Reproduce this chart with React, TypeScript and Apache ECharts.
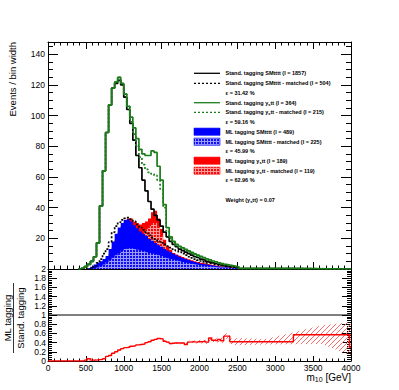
import React, { useEffect, useRef } from 'react';
import * as echarts from 'echarts';

const FONT = '"Liberation Sans", Arial, Helvetica, sans-serif';

// bin edges (GeV) of the m10 histograms
const binEdges = [
  400, 440, 480, 520, 560, 600, 640, 680, 720, 760, 800, 840, 880, 920, 960, 1000, 1040, 1080, 1120, 1160,
  1200, 1240, 1280, 1320, 1360, 1400, 1440, 1480, 1520, 1560, 1600, 1640, 1680, 1720, 1760, 1800, 1840, 1880,
  1920, 1960, 2000, 2040, 2080, 2120, 2160, 2200, 2240, 2280, 2320, 2360, 2400, 2440, 2480, 2520, 3240, 3980, 4000,
];

// Stand. tagging SMtttt (black solid)
const stdSM = [
  0, 0.5, 1.5, 3, 5, 8, 17, 41, 64, 89,
  107, 118, 121, 123, 120, 112, 104, 95, 84, 74,
  66, 58, 51, 44, 39, 35, 32, 28, 24, 21,
  18, 16, 14.5, 13, 12, 11, 10, 9, 8, 7.5,
  6.5, 6, 5, 4.5, 4, 3.5, 3, 2.5, 2, 1.8,
  1.5, 1.2, 1, 0.2, 0, 0,
];
// Stand. tagging SMtttt - matched (black dashed)
const stdSMMatched = [
  0, 0, 0, 0, 0.5, 2, 4, 6.5, 10, 13,
  17.5, 24, 28, 30.5, 32, 33, 33.5, 32.5, 31, 29,
  27, 25.5, 24, 22, 20.5, 19.5, 18, 17, 16, 15,
  14, 13, 12, 11, 10, 9, 8, 7.2, 6.5, 5.8,
  5.2, 4.6, 4, 3.6, 3.2, 2.8, 2.4, 2, 1.7, 1.4,
  1.2, 1, 0.8, 0.15, 0, 0,
];
// Stand. tagging y_s tt (green solid)
const stdYs = [
  0, 0.5, 1.5, 3, 5, 8, 17, 41, 64, 89,
  107, 118, 122, 125, 121, 114, 106, 99, 92, 85,
  78, 75, 74, 74, 77, 76, 67, 58, 42, 27,
  21, 18, 16, 14.8, 13.8, 12.8, 11.8, 10.8, 9.8, 9,
  8.2, 7.4, 6.6, 5.9, 5.2, 4.6, 4, 3.5, 3, 2.6,
  2.2, 1.8, 1.4, 0.4, 0, 0,
];
// Stand. tagging y_s tt - matched (green dashed)
const stdYsMatched = [
  0, 0.5, 1.5, 3, 5, 8, 17, 41, 64, 89,
  107, 118, 122, 125, 121, 114, 106, 96, 88, 80,
  73, 68, 65, 63, 62, 61, 58, 52, 40, 25,
  20, 17.5, 15.5, 14.3, 13.3, 12.3, 11.3, 10.3, 9.4, 8.6,
  7.8, 7, 6.3, 5.6, 5, 4.4, 3.8, 3.3, 2.8, 2.4,
  2, 1.6, 1.2, 0.3, 0, 0,
];
// ML tagging SMtttt (blue)
const mlSM = [
  0, 0, 0, 0.5, 1.5, 3, 4, 5, 6.5, 8.5,
  13, 18, 23, 27, 30, 32, 32.5, 31, 28.5, 26.5,
  24.5, 23, 21.5, 19.5, 18.5, 17, 15.5, 14.5, 13, 12,
  11, 10, 9, 8, 7.2, 6.5, 5.8, 5.2, 4.6, 4,
  3.5, 3.1, 2.7, 2.4, 2.1, 1.8, 1.5, 1.3, 1.1, 0.9,
  0.7, 0.5, 0.4, 0.1, 0, 0,
];
// ML tagging SMtttt - matched (blue hatched)
const mlSMMatched = [
  0, 0, 0, 0, 0.3, 0.5, 1, 2, 3, 4.5,
  6, 7.5, 9, 10.5, 12, 13, 13.5, 13.5, 13, 12.5,
  12, 11.5, 11, 10.5, 10, 9.5, 9, 8.5, 7.5, 7,
  6.5, 6, 5.5, 5, 4.5, 4, 3.6, 3.2, 2.9, 2.6,
  2.3, 2, 1.8, 1.6, 1.4, 1.2, 1, 0.9, 0.8, 0.7,
  0.6, 0.5, 0.4, 0.1, 0, 0,
];
// ML tagging y_s tt (red)
const mlYs = [
  0, 0, 0, 0.3, 1, 2, 3, 4, 5, 7,
  10, 14, 19, 24, 28, 31, 33, 33, 31, 30,
  29, 30, 31, 33, 37, 38, 33, 26, 19, 15,
  12.5, 10.5, 9.5, 8.6, 7.8, 7, 6.3, 5.7, 5.1, 4.5,
  4, 3.6, 3.2, 2.8, 2.4, 2.1, 1.8, 1.5, 1.3, 1.1,
  0.9, 0.7, 0.5, 0.1, 0, 0,
];
// ML tagging y_s tt - matched (red hatched)
const mlYsMatched = [
  0, 0, 0, 0, 0, 0, 0, 0, 0, 1,
  2, 4, 6, 8, 10, 12, 14, 16, 18, 20,
  22, 24, 26, 28, 30, 30, 27, 21, 15, 11.5,
  9.5, 8, 7.2, 6.5, 5.8, 5.2, 4.7, 4.2, 3.7, 3.3,
  3, 2.7, 2.4, 2.1, 1.8, 1.5, 1.3, 1.1, 0.9, 0.8,
  0.6, 0.5, 0.4, 0.05, 0, 0,
];
// ratio ML tagging / Stand. tagging, and its uncertainty
const ratio = [
  0, 0, 0.02, 0.05, 0.02, 0.02, 0.03, 0.03, 0.05, 0.1,
  0.12, 0.17, 0.2, 0.24, 0.27, 0.29, 0.3, 0.32, 0.33, 0.35,
  0.36, 0.37, 0.4, 0.42, 0.45, 0.47, 0.49, 0.48, 0.43, 0.41,
  0.38, 0.39, 0.39, 0.39, 0.39, 0.36, 0.41, 0.42, 0.41, 0.42,
  0.42, 0.43, 0.41, 0.5, 0.45, 0.44, 0.47, 0.44, 0.54, 0.54,
  0.42, 0.42, 0.42, 0.42, 0.57, 0.3,
];
const ratioErr = [
  0, 0, 0.03, 0.04, 0.03, 0.02, 0.02, 0.02, 0.02, 0.015,
  0.015, 0.015, 0.015, 0.015, 0.015, 0.015, 0.015, 0.015, 0.015, 0.015,
  0.015, 0.015, 0.015, 0.015, 0.015, 0.015, 0.015, 0.015, 0.02, 0.02,
  0.02, 0.02, 0.02, 0.025, 0.025, 0.03, 0.03, 0.03, 0.035, 0.035,
  0.04, 0.04, 0.045, 0.05, 0.05, 0.05, 0.055, 0.06, 0.06, 0.07,
  0.07, 0.07, 0.08, 0.06, 0.2, 0,
];
const bandEnd = { x: 4000, low: 0.12, high: 0.85 };

const legendTexts = [
  'Stand. tagging SMtttt (I = 1857)',
  'Stand. tagging SMtttt - matched (I = 504)',
  'ε = 31.42 %',
  'Stand. tagging y{s|s}tt (I = 364)',
  'Stand. tagging y{s|s}tt - matched (I = 215)',
  'ε = 59.16 %',
  'ML tagging SMtttt (I = 489)',
  'ML tagging SMtttt - matched (I = 225)',
  'ε = 45.99 %',
  'ML tagging y{s|s}tt (I = 189)',
  'ML tagging y{s|s}tt - matched (I = 119)',
  'ε = 62.96 %',
];
const weightText = 'Weight (y{s|s}tt) = 0.07';

const BLACK = '#000000';
const GREEN = '#1b7d1b';
const BLUE = '#0000ff';
const RED = '#ff0000';

function stepData(vals: number[]) {
  const pts = vals.map((v, i) => [binEdges[i], v]);
  pts.push([binEdges[vals.length], vals[vals.length - 1]]);
  return pts;
}

function gridPattern(bg: string, line: string, size: number) {
  const c = document.createElement('canvas');
  c.width = size;
  c.height = size;
  const ctx = c.getContext('2d')!;
  ctx.fillStyle = bg;
  ctx.fillRect(0, 0, size, size);
  ctx.fillStyle = line;
  ctx.fillRect(0, 0, size, 1);
  ctx.fillRect(0, 0, 1, size);
  return { image: c, repeat: 'repeat', imageWidth: size, imageHeight: size } as any;
}

function diagPattern(line: string, size: number) {
  const c = document.createElement('canvas');
  c.width = size;
  c.height = size;
  const ctx = c.getContext('2d')!;
  ctx.strokeStyle = line;
  ctx.lineWidth = 1;
  ctx.beginPath();
  ctx.moveTo(-1, size + 1);
  ctx.lineTo(size + 1, -1);
  ctx.moveTo(-1, 1);
  ctx.lineTo(1, -1);
  ctx.moveTo(size - 1, size + 1);
  ctx.lineTo(size + 1, size - 1);
  ctx.stroke();
  return { image: c, repeat: 'repeat', imageWidth: size, imageHeight: size } as any;
}

export default function App() {
  const ref = useRef<HTMLDivElement>(null);

  useEffect(() => {
    if (!ref.current) return;
    const chart = echarts.init(ref.current, undefined, { renderer: 'svg' });

    const blueHatch = gridPattern('#1010f0', '#9a9aff', 3);
    const redHatch = gridPattern('#f01010', '#ff9a9a', 3);
    const bandHatch = diagPattern('#ff6a6a', 5);

    const bandPts: number[][] = [];
    for (let i = 2; i < ratio.length - 1; i++) {
      const c = (binEdges[i] + binEdges[i + 1]) / 2;
      bandPts.push([c, Math.max(0, ratio[i] - ratioErr[i]), ratio[i] + ratioErr[i]]);
    }
    bandPts.push([bandEnd.x, bandEnd.low, bandEnd.high]);

    const histLine = (vals: number[], color: string, dashed: boolean, z: number) => ({
      type: 'line',
      xAxisIndex: 0,
      yAxisIndex: 0,
      data: stepData(vals),
      step: 'end',
      symbol: 'none',
      showSymbol: false,
      silent: true,
      z,
      lineStyle: { color, width: 1.7, type: dashed ? [2, 2] : 'solid' },
    });
    const histFill = (vals: number[], fill: any, z: number) => ({
      type: 'line',
      xAxisIndex: 0,
      yAxisIndex: 0,
      data: stepData(vals),
      step: 'end',
      symbol: 'none',
      showSymbol: false,
      silent: true,
      z,
      lineStyle: { width: 0, opacity: 0 },
      areaStyle: { color: fill, opacity: 1 },
    });

    const xBase = {
      type: 'value',
      min: 0,
      max: 4000,
      interval: 500,
      splitLine: { show: false },
      axisLine: { onZero: false, lineStyle: { color: BLACK, width: 1 } },
      axisTick: { inside: true, length: 7, lineStyle: { color: BLACK } },
      minorTick: { show: true, splitNumber: 6, length: 3.5, lineStyle: { color: BLACK } },
      axisLabel: { show: false },
    };
    const yMainBase = {
      type: 'value',
      min: 0,
      max: 148,
      interval: 20,
      gridIndex: 0,
      splitLine: { show: false },
      axisLine: { onZero: false, lineStyle: { color: BLACK, width: 1 } },
      axisTick: { inside: true, length: 10, lineStyle: { color: BLACK } },
      minorTick: { show: true, splitNumber: 4, length: 5, lineStyle: { color: BLACK } },
    };
    const yRatioBase = {
      type: 'value',
      min: 0,
      max: 2,
      interval: 0.2,
      gridIndex: 1,
      splitLine: { show: false },
      axisLine: { onZero: false, lineStyle: { color: BLACK, width: 1 } },
      axisTick: { inside: true, length: 9, lineStyle: { color: BLACK } },
      minorTick: { show: true, splitNumber: 5, length: 4, lineStyle: { color: BLACK } },
    };

    const legendY = [73.3, 83.3, 93.3, 102.7, 112.3, 122, 131.7, 141.7, 151, 160.7, 170.7, 180];
    const legendKinds = ['lineK', 'dashK', 'none', 'lineG', 'dashG', 'none', 'boxB', 'hatchB', 'none', 'boxR', 'hatchR', 'none'];
    const rich = { s: { fontSize: 4, fontWeight: 'bold', fontFamily: FONT, padding: [3, 0, 0, 0] } };
    const legendEls: any[] = [];
    legendTexts.forEach((t, i) => {
      const y = legendY[i];
      const k = legendKinds[i];
      if (k.startsWith('line') || k.startsWith('dash')) {
        legendEls.push({
          type: 'line',
          shape: { x1: 194, y1: y, x2: 220, y2: y },
          style: { stroke: k.endsWith('K') ? BLACK : GREEN, lineWidth: 1.3, lineDash: k.startsWith('dash') ? [2, 2] : null },
          silent: true,
        });
      } else if (k !== 'none') {
        const fill = k === 'boxB' ? BLUE : k === 'hatchB' ? blueHatch : k === 'boxR' ? RED : redHatch;
        legendEls.push({
          type: 'rect',
          shape: { x: 194, y: y - 3.6, width: 26, height: 7.2 },
          style: { fill, stroke: k.endsWith('B') ? BLUE : RED, lineWidth: 0.6 },
          silent: true,
        });
      }
      legendEls.push({
        type: 'text',
        x: 225.5,
        y,
        silent: true,
        style: {
          text: t,
          rich,
          fill: BLACK,
          fontSize: 5.5,
          fontWeight: 'bold',
          fontFamily: FONT,
          align: 'left',
          verticalAlign: 'middle',
        },
      });
    });
    legendEls.push({
      type: 'text',
      x: 225.5,
      y: 200,
      silent: true,
      style: {
        text: weightText,
        rich,
        fill: BLACK,
        fontSize: 5.5,
        fontWeight: 'bold',
        fontFamily: FONT,
        align: 'left',
        verticalAlign: 'middle',
      },
    });

    const option: any = {
      animation: false,
      backgroundColor: '#ffffff',
      grid: [
        { left: 48, top: 42, width: 303, height: 227, outerBoundsMode: 'none' },
        { left: 48, top: 269, width: 303, height: 92, outerBoundsMode: 'none' },
      ],
      xAxis: [
        { ...xBase, gridIndex: 0, position: 'bottom' },
        { ...xBase, gridIndex: 0, position: 'top' },
        {
          ...xBase,
          gridIndex: 1,
          position: 'bottom',
          axisTick: { inside: true, length: 5, lineStyle: { color: BLACK } },
          minorTick: { show: true, splitNumber: 6, length: 2.5, lineStyle: { color: BLACK } },
          axisLabel: {
            show: true,
            fontSize: 8.5,
            color: BLACK,
            fontFamily: FONT,
            margin: 2,
            formatter: (v: number) => String(Math.round(v)),
          },
        },
      ],
      yAxis: [
        {
          ...yMainBase,
          position: 'left',
          axisLabel: {
            show: true,
            fontSize: 8.5,
            color: BLACK,
            fontFamily: FONT,
            margin: 3,
            showMinLabel: false,
            showMaxLabel: false,
            formatter: (v: number) => (v === 0 || v > 140 ? '' : String(v)),
          },
        },
        { ...yMainBase, position: 'right', axisLabel: { show: false } },
        {
          ...yRatioBase,
          position: 'left',
          axisLabel: {
            show: true,
            fontSize: 8.5,
            color: BLACK,
            fontFamily: FONT,
            margin: 2,
            showMaxLabel: true,
            showMinLabel: true,
            formatter: (v: number) => {
              const r = Math.round(v * 10) / 10;
              return r === 0 || r === 1 || r === 2 ? String(r) : r.toFixed(1);
            },
          },
        },
        { ...yRatioBase, position: 'right', axisLabel: { show: false } },
      ],
      series: [
        histFill(mlYs, RED, 1),
        histFill(mlYsMatched, redHatch, 2),
        histFill(mlSM, BLUE, 3),
        histFill(mlSMMatched, blueHatch, 4),
        histLine(stdSM, BLACK, false, 5),
        histLine(stdSMMatched, BLACK, true, 6),
        histLine(stdYs, GREEN, false, 7),
        histLine(stdYsMatched, GREEN, true, 8),
        {
          type: 'custom',
          xAxisIndex: 2,
          yAxisIndex: 2,
          data: [[0, 0]],
          silent: true,
          z: 3,
          renderItem: (_params: any, api: any) => {
            const up = bandPts.map((p) => api.coord([p[0], p[2]]));
            const lo = bandPts.map((p) => api.coord([p[0], p[1]])).reverse();
            return {
              type: 'polygon',
              shape: { points: up.concat(lo) },
              style: { fill: bandHatch, stroke: null },
            };
          },
        },
        {
          type: 'line',
          xAxisIndex: 2,
          yAxisIndex: 2,
          data: [[0, 1], [4000, 1]],
          symbol: 'none',
          silent: true,
          z: 4,
          lineStyle: { color: BLACK, width: 1 },
        },
        {
          type: 'line',
          xAxisIndex: 2,
          yAxisIndex: 2,
          data: [[0, 0], ...stepData(ratio)],
          step: 'end',
          symbol: 'none',
          silent: true,
          z: 5,
          lineStyle: { color: RED, width: 1.4 },
        },
      ],
      graphic: [
        ...legendEls,
        {
          type: 'text',
          x: 12.5,
          y: 42,
          rotation: Math.PI / 2,
          silent: true,
          style: {
            text: 'Events / bin width',
            fill: BLACK,
            fontSize: 9.5,
            fontFamily: FONT,
            align: 'right',
            verticalAlign: 'middle',
          },
        },
        {
          type: 'text',
          x: 7,
          y: 318,
          rotation: Math.PI / 2,
          silent: true,
          style: { text: 'ML tagging', fill: BLACK, fontSize: 9.5, fontFamily: FONT, align: 'center', verticalAlign: 'middle' },
        },
        {
          type: 'line',
          silent: true,
          shape: { x1: 13.5, y1: 283, x2: 13.5, y2: 353 },
          style: { stroke: BLACK, lineWidth: 0.8 },
        },
        {
          type: 'text',
          x: 20,
          y: 318,
          rotation: Math.PI / 2,
          silent: true,
          style: { text: 'Stand. tagging', fill: BLACK, fontSize: 9.5, fontFamily: FONT, align: 'center', verticalAlign: 'middle' },
        },
        {
          type: 'text',
          x: 351,
          y: 377,
          silent: true,
          style: {
            text: 'm{sub|10} [GeV]',
            rich: { sub: { fontSize: 7, fontFamily: FONT, padding: [4, 0, 0, 0] } },
            fill: BLACK,
            fontSize: 10,
            fontFamily: FONT,
            align: 'right',
            verticalAlign: 'middle',
          },
        },
      ],
    };

    chart.setOption(option);
    return () => chart.dispose();
  }, []);

  return (
    <div
      ref={ref}
      style={{ position: 'fixed', left: 0, top: 0, width: 399, height: 390, background: '#ffffff' }}
    />
  );
}
